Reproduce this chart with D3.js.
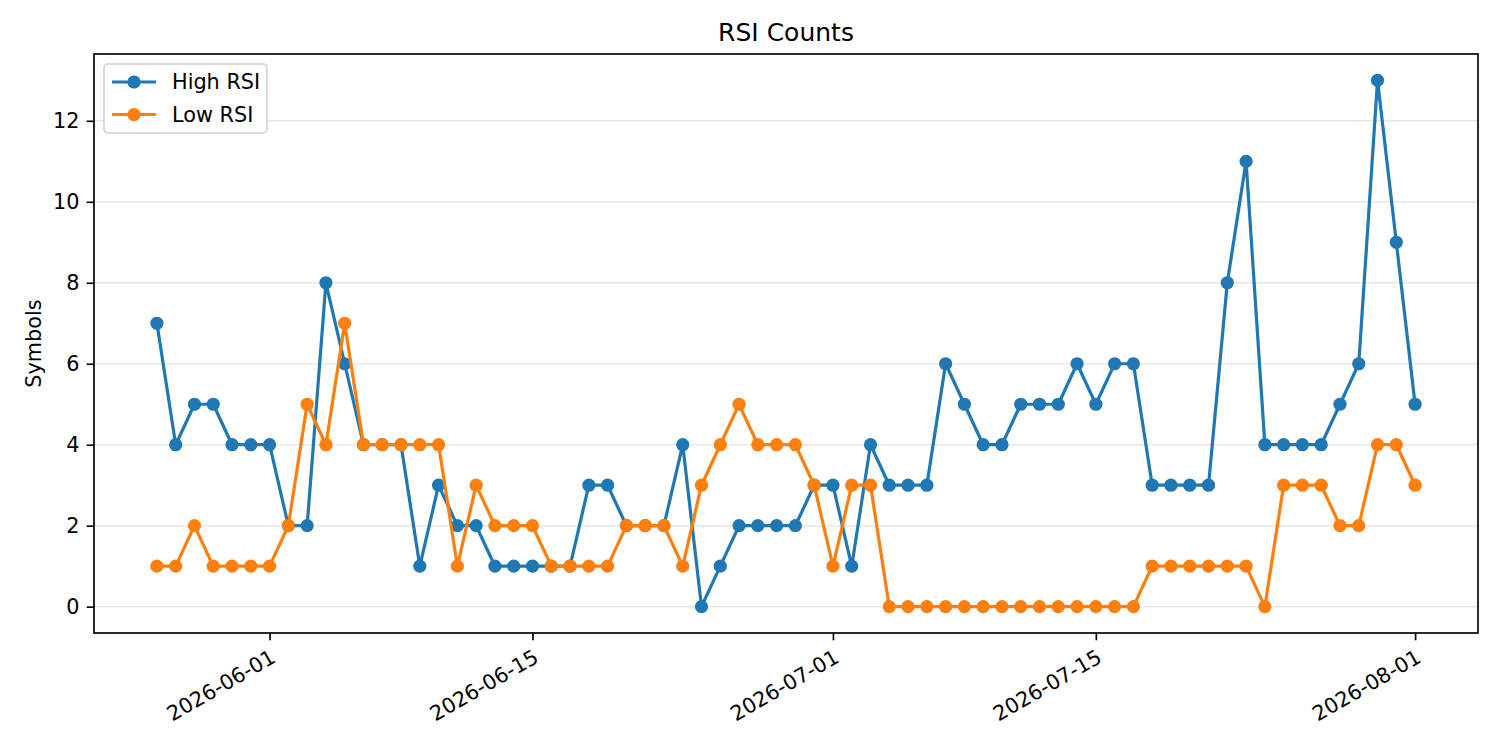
<!DOCTYPE html>
<html>
<head>
<meta charset="utf-8">
<script src="https://cdn.jsdelivr.net/npm/d3@7"></script>
<style>
  body { margin: 0; background: #fff; }
  text { font-family: "DejaVu Sans", sans-serif; fill: #000; }
</style>
</head>
<body>
<script>
// daily counts, 2026-05-26 .. 2026-08-01
const startDate = '2026-05-26';
const highRsi = [7, 4, 5, 5, 4, 4, 4, 2, 2, 8, 6, 4, 4, 4, 1, 3, 2, 2, 1, 1, 1, 1, 1, 3, 3, 2, 2, 2, 4, 0,
  1, 2, 2, 2, 2, 3, 3, 1, 4, 3, 3, 3, 6, 5, 4, 4, 5, 5, 5, 6, 5, 6, 6, 3, 3, 3, 3, 8, 11, 4,
  4, 4, 4, 5, 6, 13, 9, 5];
const lowRsi = [1, 1, 2, 1, 1, 1, 1, 2, 5, 4, 7, 4, 4, 4, 4, 4, 1, 3, 2, 2, 2, 1, 1, 1, 1, 2, 2, 2, 1, 3,
  4, 5, 4, 4, 4, 3, 1, 3, 3, 0, 0, 0, 0, 0, 0, 0, 0, 0, 0, 0, 0, 0, 0, 1, 1, 1, 1, 1, 1, 0,
  3, 3, 3, 2, 2, 4, 4, 3];
const xTickLabels = ['2026-06-01', '2026-06-15', '2026-07-01', '2026-07-15', '2026-08-01'];
const yTicks = [0, 2, 4, 6, 8, 10, 12];
const seriesNames = ['High RSI', 'Low RSI'];
const seriesColors = ['#1f77b4', '#ff7f0e'];

const W = 1500, H = 750;
const margin = {top: 54, right: 22, bottom: 117, left: 94};
const w = W - margin.left - margin.right;
const h = H - margin.top - margin.bottom;

const parse = d3.utcParse('%Y-%m-%d');
const day0 = parse(startDate);
const dates = highRsi.map((d, i) => d3.utcDay.offset(day0, i));

const series = [highRsi, lowRsi].map((vals, k) => ({
  name: seriesNames[k],
  color: seriesColors[k],
  values: vals.map((v, i) => ({date: dates[i], v: v}))
}));

// matplotlib style 5% padding
const t0 = dates[0].getTime(), t1 = dates[dates.length - 1].getTime();
const padX = (t1 - t0) * 0.05;
const x = d3.scaleUtc()
  .domain([new Date(t0 - padX), new Date(t1 + padX)])
  .range([0, w]);

const yMax = d3.max([...highRsi, ...lowRsi]);
const y = d3.scaleLinear()
  .domain([-yMax * 0.05, yMax * 1.05])
  .range([h, 0]);

const svg = d3.select('body').append('svg')
  .attr('width', W)
  .attr('height', H);

const g = svg.append('g')
  .attr('transform', `translate(${margin.left},${margin.top})`);

// grid
g.selectAll('.grid')
  .data(yTicks)
  .enter()
  .append('line')
  .attr('class', 'grid')
  .attr('x1', 0)
  .attr('x2', w)
  .attr('y1', d => y(d))
  .attr('y2', d => y(d))
  .attr('stroke', '#e8e8e8')
  .attr('stroke-width', 1.6);

// lines and markers
const line = d3.line()
  .x(d => x(d.date))
  .y(d => y(d.v));

series.forEach(s => {
  g.append('path')
    .datum(s.values)
    .attr('fill', 'none')
    .attr('stroke', s.color)
    .attr('stroke-width', 3.2)
    .attr('stroke-linejoin', 'round')
    .attr('d', line);

  g.selectAll(null)
    .data(s.values)
    .enter()
    .append('circle')
    .attr('cx', d => x(d.date))
    .attr('cy', d => y(d.v))
    .attr('r', 6.6)
    .attr('fill', s.color);
});

// axes
const xAxis = d3.axisBottom(x)
  .tickValues(xTickLabels.map(parse))
  .tickFormat(d3.utcFormat('%Y-%m-%d'))
  .tickSize(7.3)
  .tickPadding(7.3);

const xAxisG = g.append('g')
  .attr('transform', `translate(0,${h})`)
  .call(xAxis);

// rotated labels, right-top corner under the tick
xAxisG.selectAll('text')
  .attr('font-size', '20.8px')
  .attr('text-anchor', 'end')
  .attr('y', 0)
  .attr('dy', '0.76em')
  .attr('transform', 'translate(-1,14.6) rotate(-30)');

const yAxis = d3.axisLeft(y)
  .tickValues(yTicks)
  .tickSize(7.3)
  .tickPadding(7.3);

const yAxisG = g.append('g').call(yAxis);
yAxisG.selectAll('text').attr('font-size', '20.8px');

[xAxisG, yAxisG].forEach(a => {
  a.select('.domain').remove();
  a.selectAll('.tick line').attr('stroke', '#000').attr('stroke-width', 1.67);
});

// frame
g.append('rect')
  .attr('width', w)
  .attr('height', h)
  .attr('fill', 'none')
  .attr('stroke', '#000')
  .attr('stroke-width', 1.67);

// titles
svg.append('text')
  .attr('x', margin.left + w / 2)
  .attr('y', 41)
  .attr('text-anchor', 'middle')
  .attr('font-size', '25px')
  .text('RSI Counts');

svg.append('text')
  .attr('transform', `translate(41,${margin.top + h / 2})rotate(-90)`)
  .attr('text-anchor', 'middle')
  .attr('font-size', '20.8px')
  .text('Symbols');

// legend
const legend = g.append('g').attr('transform', 'translate(10,10)');
legend.append('rect')
  .attr('width', 163)
  .attr('height', 69)
  .attr('rx', 4)
  .attr('fill', '#fff')
  .attr('fill-opacity', 0.8)
  .attr('stroke', '#d0d0d0')
  .attr('stroke-width', 1.6);

const item = legend.selectAll('.legend-item')
  .data(series)
  .enter()
  .append('g')
  .attr('class', 'legend-item')
  .attr('transform', (d, i) => `translate(0,${18 + i * 32.5})`);

item.append('line')
  .attr('x1', 8).attr('x2', 52)
  .attr('stroke', d => d.color)
  .attr('stroke-width', 3.2);

item.append('circle')
  .attr('cx', 30)
  .attr('r', 6.6)
  .attr('fill', d => d.color);

item.append('text')
  .attr('x', 68)
  .attr('dy', '0.35em')
  .attr('font-size', '20.8px')
  .text(d => d.name);
</script>
</body>
</html>
